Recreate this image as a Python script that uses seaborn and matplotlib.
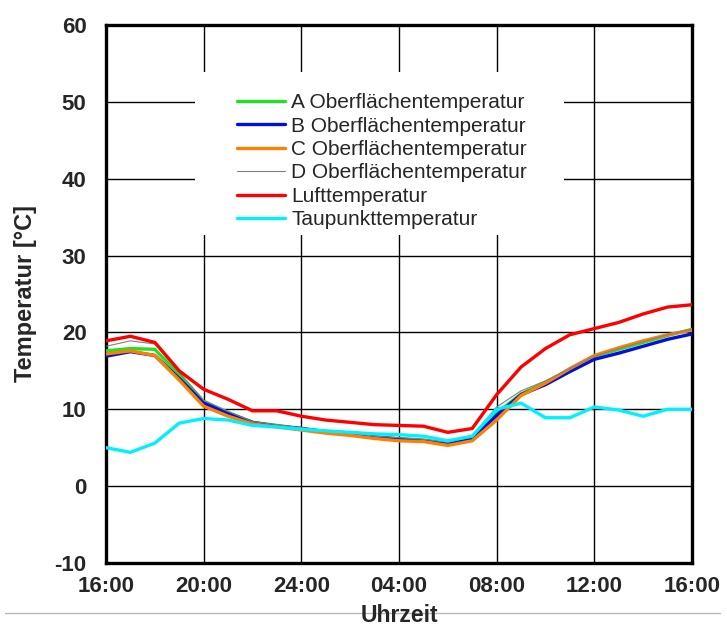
import numpy as np
import pandas as pd
import seaborn as sns
import matplotlib.pyplot as plt
from matplotlib.lines import Line2D
from matplotlib.patches import Rectangle

# Stunden ab 16:00 (0 = 16:00, 24 = 16:00 am Folgetag)
stunden = list(range(25))
tick_pos = [0, 4, 8, 12, 16, 20, 24]
tick_labels = ['16:00', '20:00', '24:00', '04:00', '08:00', '12:00', '16:00']

a_ober = [17.6, 17.9, 17.8, 14.5, 11.0, 9.6, 8.3, 7.9, 7.5, 7.1, 6.8, 6.4, 6.2,
          6.0, 5.6, 6.2, 9.5, 12.0, 13.5, 15.2, 16.9, 17.8, 18.7, 19.6, 20.4]
b_ober = [16.9, 17.5, 17.0, 14.0, 10.8, 9.5, 8.3, 7.8, 7.5, 7.1, 6.8, 6.4, 6.1,
          5.9, 5.5, 6.1, 9.2, 11.9, 13.2, 14.9, 16.5, 17.3, 18.2, 19.1, 19.8]
c_ober = [17.2, 17.6, 17.0, 13.8, 10.4, 9.1, 8.1, 7.7, 7.3, 6.9, 6.6, 6.2, 5.9,
          5.8, 5.3, 5.9, 8.6, 11.8, 13.4, 15.3, 17.0, 18.0, 18.9, 19.7, 20.3]
d_ober = [18.2, 18.9, 18.5, 14.8, 11.2, 9.7, 8.4, 8.0, 7.6, 7.2, 6.9, 6.5, 6.3,
          6.1, 5.7, 6.5, 10.3, 12.4, 13.7, 15.3, 16.9, 17.9, 18.8, 19.7, 20.4]
luft = [18.9, 19.5, 18.7, 15.0, 12.6, 11.3, 9.8, 9.8, 9.1, 8.6, 8.3, 8.0, 7.9,
        7.8, 7.0, 7.5, 11.9, 15.5, 17.9, 19.7, 20.5, 21.3, 22.4, 23.3, 23.6]
taupunkt = [5.0, 4.4, 5.6, 8.2, 8.8, 8.6, 7.9, 7.7, 7.4, 7.2, 7.0, 6.8, 6.7,
            6.5, 5.9, 6.5, 10.0, 10.8, 8.9, 8.9, 10.3, 9.9, 9.1, 10.0, 10.0]

reihen = ['A Oberflächentemperatur', 'B Oberflächentemperatur',
          'C Oberflächentemperatur', 'D Oberflächentemperatur',
          'Lufttemperatur', 'Taupunkttemperatur']
werte = [a_ober, b_ober, c_ober, d_ober, luft, taupunkt]
farben = ['#22e022', '#0010e0', '#ff8000', '#808080', '#ff0000', '#00f0ff']
breiten = [2.4, 2.4, 2.4, 0.8, 2.4, 2.4]

df = pd.concat([pd.DataFrame({'Stunde': stunden, 'Temperatur': w, 'Reihe': r})
                for r, w in zip(reihen, werte)], ignore_index=True)

sns.set_style('white')
plt.rcParams['font.family'] = ['Liberation Sans', 'DejaVu Sans']
plt.rcParams['axes.unicode_minus'] = False

fig = plt.figure(figsize=(7.27, 6.28), dpi=100)
ax = fig.add_axes([0.1458, 0.1035, 0.806, 0.8567])

sns.lineplot(data=df, x='Stunde', y='Temperatur', hue='Reihe', size='Reihe',
             hue_order=reihen, size_order=reihen,
             palette=dict(zip(reihen, farben)), sizes=dict(zip(reihen, breiten)),
             ax=ax, zorder=3)

ax.set_xlim(0, 24)
ax.set_ylim(-10, 60)
ax.set_xticks(tick_pos)
ax.set_xticklabels(tick_labels)
ax.set_yticks(range(-10, 61, 10))
ax.tick_params(length=0, labelsize=16)
ax.tick_params(axis='x', pad=9)
ax.tick_params(axis='y', pad=14)
for lab in ax.get_xticklabels() + ax.get_yticklabels():
    lab.set_fontweight('bold')

ax.grid(True, color='black', linewidth=1.0)
ax.set_axisbelow(True)
for sp in ax.spines.values():
    sp.set_color('black')
    sp.set_linewidth(2.4)

ax.set_xlabel('Uhrzeit', fontsize=16.5, fontweight='bold')
ax.set_ylabel('Temperatur [°C]', fontsize=17, fontweight='bold')
ax.xaxis.set_label_coords(0.5, -0.077)
ax.yaxis.set_label_coords(-0.118, 0.5)

# weisser Hintergrund hinter der Legende (unterbricht das Gitter)
ax.add_patch(Rectangle((0.152, 0.61), 0.63, 0.303, transform=ax.transAxes,
                       facecolor='white', edgecolor='none', zorder=1))

handles, labels = ax.get_legend_handles_labels()
leg = ax.legend(handles, labels, loc='upper left', bbox_to_anchor=(0.2235, 0.873),
                borderaxespad=0, frameon=False, fontsize=15, handlelength=2.3,
                handletextpad=0.3, labelspacing=0.21, borderpad=0)
leg.set_zorder(5)
for h, b in zip(leg.get_lines(), breiten):
    h.set_linewidth(b)

fig.add_artist(Line2D([0.007, 0.99], [1 - 613 / 628, 1 - 613 / 628],
                      transform=fig.transFigure, color='#b8b8b8', linewidth=1.0,
                      zorder=0))

fig.savefig('out.png', dpi=100)
